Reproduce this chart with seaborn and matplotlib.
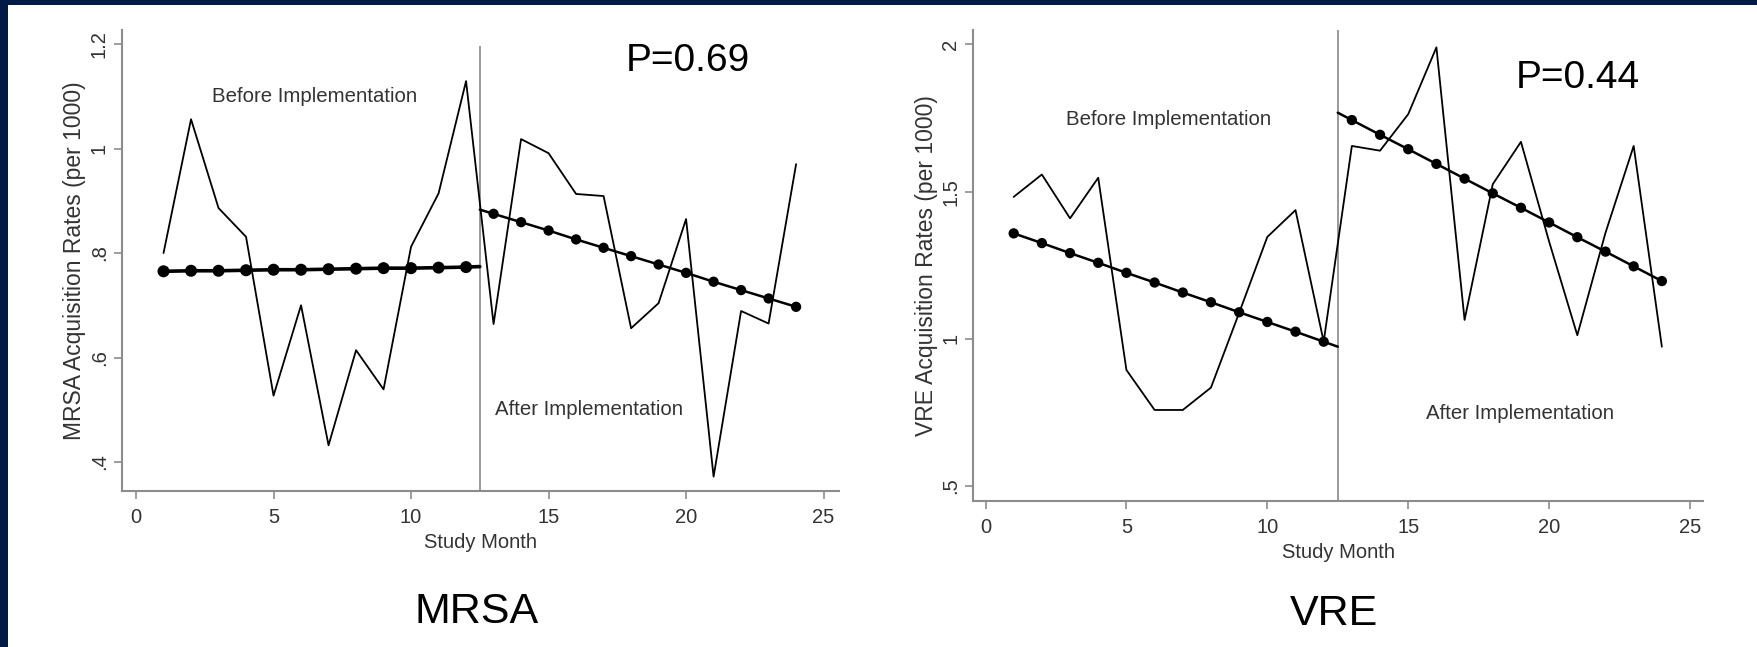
import matplotlib
matplotlib.use("Agg")
import matplotlib.pyplot as plt
from matplotlib.patches import Rectangle
import seaborn as sns
import pandas as pd

# ---------------- data ----------------
months = list(range(1, 25))
intervention_month = 12.5

mrsa_rate = [0.800, 1.056, 0.886, 0.831, 0.527, 0.700, 0.432, 0.614, 0.539, 0.812, 0.914, 1.129,
             0.664, 1.018, 0.991, 0.913, 0.909, 0.656, 0.704, 0.865, 0.372, 0.689, 0.665, 0.970]
mrsa_fit_pre = [0.765, 0.766, 0.766, 0.767, 0.768, 0.768, 0.769, 0.770, 0.771, 0.771, 0.772, 0.773]
mrsa_fit_pre_edge = 0.774
mrsa_fit_post = [0.875, 0.859, 0.843, 0.826, 0.810, 0.794, 0.778, 0.762, 0.745, 0.729, 0.713, 0.697]
mrsa_fit_post_edge = 0.883

vre_rate = [1.482, 1.558, 1.409, 1.547, 0.894, 0.758, 0.758, 0.834, 1.088, 1.346, 1.437, 0.990,
            1.655, 1.639, 1.763, 1.990, 1.064, 1.525, 1.669, 1.330, 1.012, 1.360, 1.655, 0.973]
vre_fit_pre = [1.358, 1.325, 1.291, 1.258, 1.224, 1.191, 1.157, 1.124, 1.090, 1.057, 1.024, 0.990]
vre_fit_pre_edge = 0.973
vre_fit_post = [1.743, 1.693, 1.644, 1.594, 1.544, 1.494, 1.445, 1.395, 1.345, 1.296, 1.246, 1.196]
vre_fit_post_edge = 1.768

x_ticks = [0, 5, 10, 15, 20, 25]
mrsa_yticks = [0.4, 0.6, 0.8, 1.0, 1.2]
mrsa_yticklabels = [".4", ".6", ".8", "1", "1.2"]
vre_yticks = [0.5, 1.0, 1.5, 2.0]
vre_yticklabels = [".5", "1", "1.5", "2"]

panels = [
    dict(name="MRSA", rate=mrsa_rate, pre=mrsa_fit_pre, pre_edge=mrsa_fit_pre_edge,
         post=mrsa_fit_post, post_edge=mrsa_fit_post_edge, pval="P=0.69",
         ylabel="MRSA Acquisition Rates (per 1000)", yticks=mrsa_yticks, yticklabels=mrsa_yticklabels,
         rect=[122/1758, 1-491/647, (839-122)/1758, (491-30)/647],
         xlim=(-0.51, 25.56), ylim=(0.3445, 1.2268), vtop=1.197,
         before_pos=(6.5, 1.099), after_pos=(16.47, 0.50), p_pos=(20.07, 1.168),
         caption_pos=(476.5/1758, 1-611.6/647), pre_lw=2.6, pre_ms=75),
    dict(name="VRE", rate=vre_rate, pre=vre_fit_pre, pre_edge=vre_fit_pre_edge,
         post=vre_fit_post, post_edge=vre_fit_post_edge, pval="P=0.44",
         ylabel="VRE Acquisition Rates (per 1000)", yticks=vre_yticks, yticklabels=vre_yticklabels,
         rect=[973.3/1758, 1-501/647, (1703-973.3)/1758, (501-30)/647],
         xlim=(-0.433, 25.46), ylim=(0.4487, 2.049), vtop=2.049,
         before_pos=(6.51, 1.746), after_pos=(18.97, 0.747), p_pos=(21.03, 1.885),
         caption_pos=(1334/1758, 1-613.6/647), pre_lw=1.8, pre_ms=55),
]

# ---------------- style ----------------
sns.set_style("white")
plt.rcParams["font.family"] = ["Liberation Sans", "DejaVu Sans"]

navy = "#021b46"
axis_gray = "#8c8c8c"
text_gray = "#333333"

fig = plt.figure(figsize=(17.58, 6.47), dpi=100)
fig.patch.set_facecolor("white")
fig.add_artist(Rectangle((0, 1 - 5/647), 1, 5/647, transform=fig.transFigure,
                         facecolor=navy, edgecolor="none", zorder=10))
fig.add_artist(Rectangle((0, 0), 8/1758, 1, transform=fig.transFigure,
                         facecolor=navy, edgecolor="none", zorder=10))

for p in panels:
    ax = fig.add_axes(p["rect"])
    df = pd.DataFrame({"month": months, "rate": p["rate"]})
    pre_df = pd.DataFrame({"month": months[:12] + [intervention_month],
                           "fit": p["pre"] + [p["pre_edge"]]})
    post_df = pd.DataFrame({"month": [intervention_month] + months[12:],
                            "fit": [p["post_edge"]] + p["post"]})
    dots_df = pd.DataFrame({"month": months, "fit": p["pre"] + p["post"]})

    sns.lineplot(data=df, x="month", y="rate", ax=ax, color="black", lw=1.3, sort=False, zorder=3)
    sns.lineplot(data=pre_df, x="month", y="fit", ax=ax, color="black", lw=p["pre_lw"], sort=False, zorder=4)
    sns.lineplot(data=post_df, x="month", y="fit", ax=ax, color="black", lw=1.8, sort=False, zorder=4)
    sns.scatterplot(data=dots_df.iloc[:12], x="month", y="fit", ax=ax, color="black",
                    s=p["pre_ms"], edgecolor="none", zorder=5)
    sns.scatterplot(data=dots_df.iloc[12:], x="month", y="fit", ax=ax, color="black",
                    s=55, edgecolor="none", zorder=5)

    ax.vlines(intervention_month, p["ylim"][0], p["vtop"], color="#888888", lw=1.2, zorder=2)

    ax.set_xlim(*p["xlim"])
    ax.set_ylim(*p["ylim"])
    ax.set_xticks(x_ticks)
    ax.set_xticklabels([str(t) for t in x_ticks])
    ax.set_yticks(p["yticks"])
    ax.set_yticklabels(p["yticklabels"])

    for side in ["top", "right"]:
        ax.spines[side].set_visible(False)
    for side in ["left", "bottom"]:
        ax.spines[side].set_color(axis_gray)
        ax.spines[side].set_linewidth(1.5)

    ax.tick_params(axis="both", direction="out", length=6, width=1.2, color=axis_gray,
                   labelcolor=text_gray, labelsize=14.5)
    ax.tick_params(axis="x", pad=6.5, bottom=True)
    ax.tick_params(axis="y", pad=3.5, left=True, labelrotation=90)
    for lbl in ax.get_yticklabels():
        lbl.set_va("center")

    ax.set_xlabel("Study Month", fontsize=14.5, color=text_gray)
    ax.xaxis.label.set_va("center")
    h_px = p["rect"][3] * 647
    w_px = p["rect"][2] * 1758
    ax.xaxis.set_label_coords(0.5, -51.5 / h_px)
    ax.set_ylabel(p["ylabel"], fontsize=16.5, color=text_gray)
    ax.yaxis.label.set_va("center")
    ax.yaxis.set_label_coords(-47 / w_px, 0.5)

    ax.text(*p["before_pos"], "Before Implementation", fontsize=14.7, color=text_gray,
            ha="center", va="center")
    ax.text(*p["after_pos"], "After Implementation", fontsize=14.7, color=text_gray,
            ha="center", va="center")
    ax.text(*p["p_pos"], p["pval"], fontsize=28, color="black", ha="center", va="center")

    fig.text(*p["caption_pos"], p["name"], fontsize=31, color="black", ha="center", va="center")

fig.savefig("out.png", dpi=100, facecolor="white")
